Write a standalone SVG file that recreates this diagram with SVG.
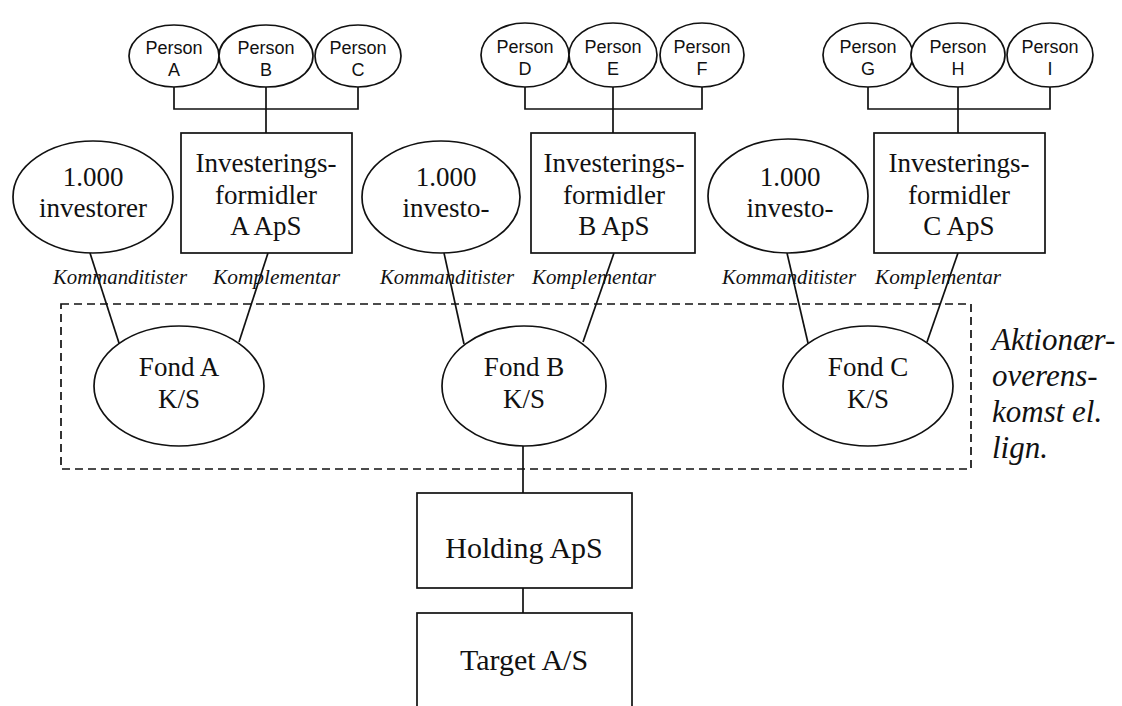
<svg xmlns="http://www.w3.org/2000/svg" width="1122" height="706" viewBox="0 0 1122 706">
<style>
.sh{fill:#fff;stroke:#111;stroke-width:1.7}
.ln{fill:none;stroke:#111;stroke-width:1.7}
.dash{fill:none;stroke:#111;stroke-width:1.7;stroke-dasharray:8 5}
.p{font-family:"Liberation Sans",Arial,sans-serif;font-size:18px;fill:#111;text-anchor:middle}
.t{font-family:"Liberation Serif","Times New Roman",serif;font-size:27px;fill:#111;text-anchor:middle}
.b{font-family:"Liberation Serif","Times New Roman",serif;font-size:30px;fill:#111;text-anchor:middle}
.lab{font-family:"Liberation Serif","Times New Roman",serif;font-style:italic;font-size:20px;fill:#111}
.ak{font-family:"Liberation Serif","Times New Roman",serif;font-style:italic;font-size:31px;fill:#111}
</style>
<rect width="1122" height="706" fill="#fff"/>
<g id="connectors">
<path class="ln" d="M174 87V109H358V87M266 87V133"/>
<path class="ln" d="M525 87V109H702V87M613 87V133"/>
<path class="ln" d="M868 87V109H1050V87M958 87V133"/>
<path class="ln" d="M90 253L119 343"/>
<path class="ln" d="M268 253L239 342"/>
<path class="ln" d="M444 253L464 344"/>
<path class="ln" d="M614 253L583 342"/>
<path class="ln" d="M787 253L808 343"/>
<path class="ln" d="M958 253L927 342"/>
<path class="ln" d="M523 446V493M523 588V613"/>
</g>
<g id="group-box"><rect class="dash" x="61" y="304" width="910" height="165"/></g>
<g id="personA"><ellipse class="sh" cx="174" cy="56" rx="45" ry="31"/><text class="p" x="174" y="54">Person</text><text class="p" x="174" y="76">A</text></g>
<g id="personB"><ellipse class="sh" cx="266" cy="56" rx="47" ry="31"/><text class="p" x="266" y="54">Person</text><text class="p" x="266" y="76">B</text></g>
<g id="personC"><ellipse class="sh" cx="358" cy="56" rx="43" ry="31"/><text class="p" x="358" y="54">Person</text><text class="p" x="358" y="76">C</text></g>
<g id="personD"><ellipse class="sh" cx="525" cy="55" rx="44" ry="32"/><text class="p" x="525" y="53">Person</text><text class="p" x="525" y="75">D</text></g>
<g id="personE"><ellipse class="sh" cx="613" cy="55" rx="44" ry="32"/><text class="p" x="613" y="53">Person</text><text class="p" x="613" y="75">E</text></g>
<g id="personF"><ellipse class="sh" cx="702" cy="55" rx="42" ry="32"/><text class="p" x="702" y="53">Person</text><text class="p" x="702" y="75">F</text></g>
<g id="personG"><ellipse class="sh" cx="868" cy="55" rx="45" ry="32"/><text class="p" x="868" y="53">Person</text><text class="p" x="868" y="75">G</text></g>
<g id="personH"><ellipse class="sh" cx="958" cy="55" rx="47" ry="32"/><text class="p" x="958" y="53">Person</text><text class="p" x="958" y="75">H</text></g>
<g id="personI"><ellipse class="sh" cx="1050" cy="55" rx="43" ry="32"/><text class="p" x="1050" y="53">Person</text><text class="p" x="1050" y="75">I</text></g>
<g id="investorsA"><ellipse class="sh" cx="93" cy="197" rx="80" ry="56"/><text class="t" x="93" y="186">1.000</text><text class="t" x="93" y="217">investorer</text></g>
<g id="investorsB"><ellipse class="sh" cx="441" cy="197" rx="79" ry="56"/><text class="t" x="446" y="186">1.000</text><text class="t" x="446" y="217">investo-</text></g>
<g id="investorsC"><ellipse class="sh" cx="788" cy="196" rx="80" ry="57"/><text class="t" x="790" y="186">1.000</text><text class="t" x="790" y="217">investo-</text></g>
<g id="formidlerA"><rect class="sh" x="181" y="133" width="171" height="120"/><text class="t" x="266" y="172">Investerings-</text><text class="t" x="266" y="204">formidler</text><text class="t" x="266" y="235">A ApS</text></g>
<g id="formidlerB"><rect class="sh" x="531" y="133" width="164" height="120"/><text class="t" x="614" y="172">Investerings-</text><text class="t" x="614" y="204">formidler</text><text class="t" x="614" y="235">B ApS</text></g>
<g id="formidlerC"><rect class="sh" x="874" y="133" width="171" height="120"/><text class="t" x="959" y="172">Investerings-</text><text class="t" x="959" y="204">formidler</text><text class="t" x="959" y="235">C ApS</text></g>
<g id="labels">
<text class="lab" x="53" y="284" textLength="134" lengthAdjust="spacingAndGlyphs">Kommanditister</text>
<text class="lab" x="213" y="284" textLength="127" lengthAdjust="spacingAndGlyphs">Komplementar</text>
<text class="lab" x="380" y="284" textLength="134" lengthAdjust="spacingAndGlyphs">Kommanditister</text>
<text class="lab" x="532" y="284" textLength="124" lengthAdjust="spacingAndGlyphs">Komplementar</text>
<text class="lab" x="722" y="284" textLength="134" lengthAdjust="spacingAndGlyphs">Kommanditister</text>
<text class="lab" x="875" y="284" textLength="126" lengthAdjust="spacingAndGlyphs">Komplementar</text>
</g>
<g id="fondA"><ellipse class="sh" cx="179" cy="386" rx="85" ry="60"/><text class="t" x="179" y="376">Fond A</text><text class="t" x="179" y="408">K/S</text></g>
<g id="fondB"><ellipse class="sh" cx="524" cy="386" rx="82" ry="60"/><text class="t" x="524" y="376">Fond B</text><text class="t" x="524" y="408">K/S</text></g>
<g id="fondC"><ellipse class="sh" cx="868" cy="386" rx="85" ry="60"/><text class="t" x="868" y="376">Fond C</text><text class="t" x="868" y="408">K/S</text></g>
<g id="aktionaer">
<text class="ak" x="992" y="350">Aktionær-</text>
<text class="ak" x="992" y="386">overens-</text>
<text class="ak" x="992" y="422">komst el.</text>
<text class="ak" x="992" y="458">lign.</text>
</g>
<g id="holding"><rect class="sh" x="417" y="493" width="215" height="95"/><text class="b" x="524" y="558">Holding ApS</text></g>
<g id="target"><rect class="sh" x="417" y="613" width="215" height="110"/><text class="b" x="524" y="670">Target A/S</text></g>
</svg>
